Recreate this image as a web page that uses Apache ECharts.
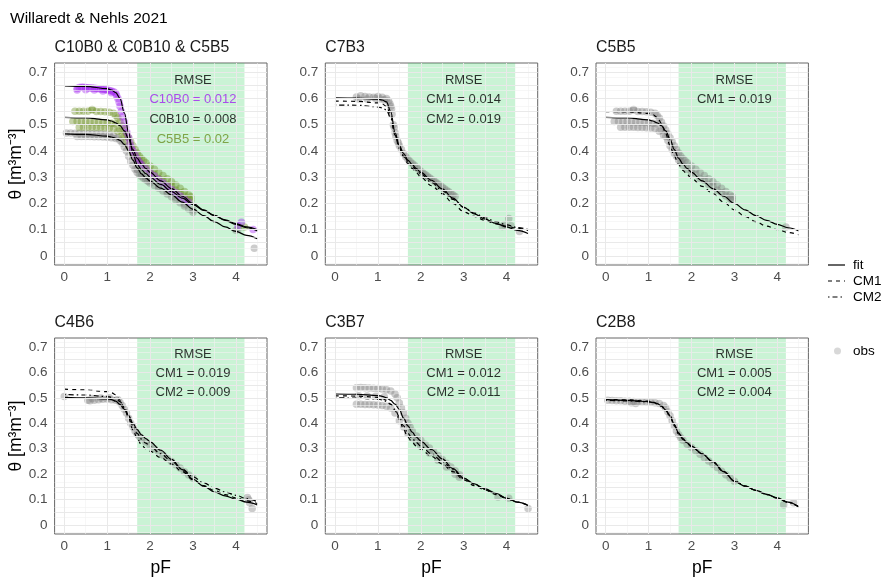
<!DOCTYPE html>
<html><head><meta charset="utf-8">
<script src="https://cdn.jsdelivr.net/npm/echarts@6/dist/echarts.min.js"></script>
<style>html,body{margin:0;padding:0;background:#fff}#c{width:885px;height:578px}</style>
</head><body><div id="c"></div><script>
// ---------- data ----------
const curvePF = [0,0.5,1,1.1,1.2,1.3,1.4,1.5,1.6,1.7,1.8,1.9,2,2.25,2.5,2.75,3,3.25,3.5,3.75,4,4.25,4.5];

// Panel 1: C10B0 & C0B10 & C5B5 (fits)
const fitC10B0 = [0.648,0.646,0.637,0.632,0.622,0.6,0.545,0.47,0.39,0.348,0.328,0.313,0.3,0.272,0.245,0.22,0.195,0.173,0.154,0.137,0.123,0.11,0.099];
const fitC0B10 = [0.465,0.463,0.456,0.453,0.448,0.44,0.425,0.4,0.365,0.335,0.312,0.297,0.285,0.258,0.232,0.205,0.178,0.153,0.13,0.11,0.093,0.078,0.065];
const fitC5B5  = [0.528,0.526,0.518,0.514,0.507,0.496,0.476,0.445,0.405,0.372,0.35,0.333,0.318,0.286,0.256,0.227,0.2,0.175,0.153,0.135,0.12,0.107,0.095];
const cm1C5B5  = [0.55,0.549,0.543,0.538,0.528,0.505,0.465,0.42,0.38,0.348,0.326,0.309,0.295,0.265,0.237,0.205,0.175,0.15,0.13,0.113,0.1,0.089,0.08];
// C7B3
const fitC7B3 = [0.602,0.601,0.597,0.594,0.587,0.55,0.47,0.42,0.39,0.365,0.348,0.332,0.318,0.288,0.255,0.22,0.185,0.16,0.14,0.124,0.11,0.097,0.085];
const cm1C7B3 = [0.59,0.589,0.583,0.579,0.57,0.535,0.46,0.41,0.378,0.352,0.333,0.316,0.3,0.267,0.237,0.2,0.168,0.15,0.135,0.122,0.113,0.105,0.097];
const cm2C7B3 = [0.575,0.574,0.568,0.564,0.556,0.525,0.46,0.413,0.383,0.36,0.342,0.326,0.312,0.28,0.248,0.215,0.185,0.163,0.145,0.13,0.118,0.108,0.1];
// C4B6
const fitC4B6 = [0.502,0.5,0.496,0.493,0.487,0.474,0.455,0.43,0.4,0.375,0.355,0.34,0.327,0.294,0.258,0.218,0.18,0.153,0.13,0.115,0.102,0.09,0.079];
const cm1C4B6 = [0.534,0.531,0.524,0.52,0.512,0.49,0.46,0.42,0.375,0.34,0.315,0.3,0.29,0.265,0.24,0.21,0.178,0.155,0.136,0.12,0.107,0.095,0.085];
const cm2C4B6 = [0.513,0.511,0.505,0.502,0.497,0.485,0.462,0.43,0.39,0.36,0.338,0.322,0.31,0.28,0.25,0.22,0.19,0.166,0.145,0.13,0.117,0.104,0.092];
// C3B7
const fitC3B7 = [0.515,0.514,0.509,0.506,0.5,0.49,0.475,0.455,0.42,0.39,0.365,0.345,0.33,0.297,0.26,0.222,0.185,0.162,0.142,0.125,0.105,0.09,0.077];
const cm1C3B7 = [0.508,0.507,0.502,0.498,0.49,0.475,0.45,0.415,0.375,0.345,0.325,0.31,0.298,0.27,0.24,0.21,0.178,0.155,0.138,0.12,0.104,0.09,0.078];
const cm2C3B7 = [0.5,0.499,0.495,0.492,0.486,0.474,0.455,0.425,0.39,0.36,0.34,0.324,0.31,0.28,0.25,0.218,0.183,0.16,0.14,0.122,0.106,0.091,0.078];
// C2B8
const fitC2B8 = [0.493,0.49,0.485,0.482,0.477,0.468,0.452,0.43,0.395,0.362,0.34,0.323,0.31,0.28,0.248,0.21,0.172,0.153,0.136,0.121,0.107,0.09,0.072];
const cm1C2B8 = [0.495,0.492,0.487,0.484,0.478,0.468,0.45,0.426,0.39,0.358,0.337,0.321,0.308,0.279,0.247,0.21,0.173,0.154,0.137,0.121,0.106,0.09,0.073];
const cm2C2B8 = [0.491,0.488,0.484,0.481,0.476,0.467,0.451,0.428,0.393,0.36,0.339,0.322,0.309,0.28,0.248,0.211,0.173,0.153,0.136,0.12,0.106,0.089,0.071];

// observations [pF, theta]
const obsC0B10 = [[0.05,0.468],[0.15,0.468],[0.25,0.467],[0.35,0.467],[0.45,0.466],[0.55,0.466],[0.65,0.465],[0.75,0.465],[0.85,0.464],[0.95,0.463],[1.05,0.462],[1.15,0.458],
 [0.3,0.455],[0.4,0.455],[0.5,0.455],[0.6,0.455],[0.7,0.454],[0.8,0.454],[0.9,0.453],[1.0,0.452],[1.1,0.45],[1.2,0.447],
 [1.25,0.45],[1.3,0.44],[1.35,0.43],[1.4,0.415],[1.45,0.4],[1.5,0.38],[1.55,0.36],[1.6,0.345],[1.65,0.33],[1.7,0.318],[1.75,0.31],[1.8,0.302],[1.85,0.296],[1.9,0.29],[1.95,0.284],[2.0,0.278],[2.1,0.268],[2.2,0.258],[2.3,0.247],[2.4,0.236],[2.5,0.225],[2.6,0.214],[2.7,0.202],[2.8,0.19],[2.9,0.178],[3.0,0.166],
 [1.7,0.33],[1.8,0.312],[1.9,0.3],[2.0,0.288],[2.2,0.266],[2.4,0.244],[2.6,0.222],[2.8,0.198],[3.0,0.175],
 [4.0,0.097],[4.05,0.102],[4.43,0.029]];
const obsC5B5 = [[0.25,0.551],[0.35,0.551],[0.45,0.551],[0.55,0.551],[0.65,0.558],[0.65,0.557],[0.75,0.55],[0.85,0.55],[0.95,0.549],[1.05,0.547],[1.15,0.543],
 [0.2,0.512],[0.3,0.512],[0.4,0.511],[0.5,0.511],[0.6,0.51],[0.7,0.51],[0.8,0.509],[0.9,0.508],[1.0,0.507],[1.1,0.505],[1.2,0.502],
 [0.35,0.49],[0.45,0.49],[0.55,0.49],[0.65,0.49],[0.75,0.489],[0.85,0.489],[0.95,0.488],[1.05,0.487],[1.15,0.485],
 [1.2,0.535],[1.25,0.525],[1.3,0.51],[1.35,0.495],[1.4,0.48],[1.45,0.465],[1.5,0.45],[1.55,0.435],[1.6,0.42],[1.65,0.405],[1.7,0.392],[1.75,0.38],[1.8,0.37],[1.85,0.362],[1.9,0.355],[2.0,0.342],[2.1,0.33],[2.2,0.318],[2.3,0.306],[2.4,0.294],[2.5,0.282],[2.6,0.27],[2.7,0.258],[2.8,0.245],[2.9,0.232],[2.95,0.225],
 [1.3,0.48],[1.4,0.455],[1.5,0.42],[1.6,0.39],[1.7,0.365],[1.8,0.345],[1.9,0.33],[2.0,0.318],[2.2,0.295],[2.4,0.272],[2.6,0.25],[2.8,0.228],[2.95,0.212],
 [1.25,0.475],[1.35,0.46],[1.45,0.44],[1.55,0.405],[1.65,0.38],[1.75,0.36],[2.1,0.31],[2.3,0.288],[2.5,0.265],[2.7,0.24],[2.9,0.218],
 [4.2,0.11]];
const obsC10B0 = [[0.3,0.638],[0.35,0.642],[0.4,0.643],[0.45,0.643],[0.5,0.642],[0.55,0.641],[0.6,0.64],[0.65,0.64],[0.7,0.639],[0.75,0.638],[0.8,0.637],[0.85,0.636],[0.9,0.635],[0.95,0.634],[1.0,0.632],[1.05,0.63],[1.1,0.628],[1.15,0.625],[1.2,0.62],
 [0.3,0.632],[0.5,0.633],[0.7,0.632],[0.9,0.628],[1.1,0.622],
 [1.22,0.61],[1.25,0.6],[1.28,0.585],[1.3,0.57],[1.33,0.55],[1.36,0.53],[1.4,0.51],[1.43,0.49],[1.46,0.47],[1.5,0.45],[1.53,0.43],[1.56,0.415],[1.6,0.4],[1.65,0.385],[1.7,0.37],[1.75,0.358],[1.8,0.348],[1.9,0.332],[2.0,0.318],[2.1,0.305],[2.2,0.292],[2.3,0.279],[2.4,0.266],[2.5,0.253],[2.6,0.24],[2.7,0.228],[2.8,0.216],[2.9,0.205],
 [4.05,0.115],[4.13,0.128],[4.4,0.1]];
const obsC7B3 = [[0.5,0.605],[0.6,0.61],[0.7,0.607],[0.8,0.605],[0.9,0.604],[1.0,0.607],[1.1,0.604],[1.2,0.6],[0.55,0.598],[0.75,0.598],[0.95,0.6],[1.05,0.598],[1.15,0.595],[1.25,0.59],
 [1.3,0.57],[1.33,0.54],[1.36,0.5],[1.4,0.47],[1.45,0.44],[1.5,0.42],[1.55,0.405],[1.6,0.39],[1.7,0.368],[1.8,0.352],[1.9,0.337],[2.0,0.322],[2.1,0.31],[2.2,0.298],[2.3,0.286],[2.4,0.274],[2.5,0.262],[2.6,0.25],[2.7,0.238],[2.8,0.226],
 [1.28,0.58],[1.32,0.56],[1.38,0.49],[1.42,0.455],[1.48,0.43],[1.65,0.378],[1.75,0.36],[1.85,0.345],[1.95,0.33],[2.05,0.316],[2.15,0.304],[2.25,0.292],[2.35,0.28],[2.45,0.268],[2.55,0.256],[2.65,0.244],[2.75,0.232],
 [3.9,0.112],[3.95,0.118],[4.05,0.142],[4.1,0.115],[4.3,0.093]];
const obsC4B6 = [[0.0,0.505],[0.55,0.49],[0.6,0.488],[0.7,0.49],[0.8,0.492],[0.9,0.494],[1.0,0.495],[1.1,0.492],[1.2,0.49],[1.3,0.482],[0.65,0.497],[0.85,0.499],[1.05,0.5],[1.25,0.492],
 [1.35,0.47],[1.4,0.455],[1.45,0.44],[1.5,0.42],[1.55,0.4],[1.6,0.385],[1.65,0.37],[1.7,0.358],[1.75,0.348],[1.8,0.34],[1.9,0.326],[2.0,0.313],[2.1,0.3],[2.2,0.288],[2.3,0.275],[2.4,0.262],[2.5,0.25],[2.6,0.237],[2.7,0.224],[2.8,0.21],[2.9,0.197],[3.0,0.185],
 [4.27,0.108],[4.3,0.1],[4.32,0.088],[4.38,0.065]];
const obsC3B7 = [[0.5,0.54],[0.6,0.541],[0.7,0.54],[0.8,0.539],[0.9,0.538],[1.0,0.537],[1.1,0.535],[1.2,0.532],[1.3,0.527],[1.4,0.515],
 [0.5,0.475],[0.6,0.475],[0.7,0.474],[0.8,0.474],[0.9,0.473],[1.0,0.472],[1.1,0.47],[1.2,0.467],[1.3,0.46],
 [0.55,0.508],[0.75,0.507],[0.95,0.506],[1.15,0.504],
 [1.45,0.5],[1.5,0.48],[1.55,0.46],[1.6,0.44],[1.65,0.42],[1.7,0.4],[1.75,0.385],[1.8,0.37],[1.9,0.35],[2.0,0.333],[2.1,0.318],[2.2,0.303],[2.3,0.288],[2.4,0.273],[2.5,0.258],[2.6,0.243],[2.7,0.228],[2.8,0.213],[2.9,0.198],
 [1.4,0.44],[1.5,0.41],[1.6,0.385],[1.7,0.36],[1.8,0.342],[1.9,0.326],[2.0,0.31],[2.2,0.283],[2.4,0.255],[2.6,0.228],[2.8,0.2],[2.9,0.188],
 [3.8,0.11],[4.05,0.105],[4.5,0.065]];
const obsC2B8 = [[0.05,0.49],[0.15,0.489],[0.25,0.488],[0.35,0.488],[0.45,0.487],[0.55,0.487],[0.65,0.486],[0.75,0.485],[0.85,0.485],[0.95,0.484],[1.05,0.483],[1.15,0.481],[1.25,0.478],[1.35,0.47],[0.7,0.478],[0.6,0.481],
 [1.4,0.46],[1.45,0.445],[1.5,0.43],[1.55,0.41],[1.6,0.39],[1.65,0.37],[1.7,0.355],[1.75,0.343],[1.8,0.333],[1.9,0.318],[2.0,0.305],[2.1,0.292],[2.2,0.278],[2.3,0.265],[2.4,0.252],[2.5,0.239],[2.6,0.226],[2.7,0.212],[2.8,0.198],[2.9,0.185],[3.0,0.172],
 [4.15,0.08],[4.38,0.088]];

const panelTitles = ['C10B0 & C0B10 & C5B5','C7B3','C5B5','C4B6','C3B7','C2B8'];
const rmseLines = [
  ['RMSE','C10B0 = 0.012','C0B10 = 0.008','C5B5 = 0.02'],
  ['RMSE','CM1 = 0.014','CM2 = 0.019'],
  ['RMSE','CM1 = 0.019'],
  ['RMSE','CM1 = 0.019','CM2 = 0.009'],
  ['RMSE','CM1 = 0.012','CM2 = 0.011'],
  ['RMSE','CM1 = 0.005','CM2 = 0.004']
];
const rmseColors = [['#000','#a020f0','#000','#6b8e23'],['#000','#000','#000'],['#000','#000'],['#000','#000','#000'],['#000','#000','#000'],['#000','#000','#000']];
const rmsePF = 3.0;
const rmseTheta = [0.67,0.595,0.52,0.445];

const xTicks = [0,1,2,3,4];
const xMinor = [0.5,1.5,2.5,3.5,4.5];
const yLabels = [0,0.1,0.2,0.3,0.4,0.5,0.6,0.7];
const yTicks = [0,0.05,0.1,0.15,0.2,0.25,0.3,0.35,0.4,0.45,0.5,0.55,0.6,0.65,0.7];
const yMinor = [-0.025,0.025,0.075,0.125,0.175,0.225,0.275,0.325,0.375,0.425,0.475,0.525,0.575,0.625,0.675,0.725];
const bandPF = [1.7, 4.2];

// ---------- build ----------
const FONT = 'Liberation Sans, Arial, Helvetica, sans-serif';
const colLeft = [54.6, 325.3, 596];
const rowTop = [63, 338];
const PW = 212.4, PH = 202;

const lineStyles = { fit: 'solid', CM1: [4, 4], CM2: [1.5, 3, 5, 3] };
const panelCurves = [
  [['fit', fitC10B0], ['fit', fitC0B10], ['fit', fitC5B5]],
  [['fit', fitC7B3], ['CM1', cm1C7B3], ['CM2', cm2C7B3]],
  [['fit', fitC5B5], ['CM1', cm1C5B5]],
  [['fit', fitC4B6], ['CM1', cm1C4B6], ['CM2', cm2C4B6]],
  [['fit', fitC3B7], ['CM1', cm1C3B7], ['CM2', cm2C3B7]],
  [['fit', fitC2B8], ['CM1', cm1C2B8], ['CM2', cm2C2B8]]
];
const panelObs = [
  [[obsC0B10, '#7f7f7f'], [obsC5B5, '#6b8e23'], [obsC10B0, '#a020f0']],
  [[obsC7B3, '#7f7f7f']],
  [[obsC5B5, '#7f7f7f']],
  [[obsC4B6, '#7f7f7f']],
  [[obsC3B7, '#7f7f7f']],
  [[obsC2B8, '#7f7f7f']]
];

const grid = [], xAxis = [], yAxis = [], series = [], title = [];
title.push({ text: 'Willaredt & Nehls 2021', left: 10, top: 11, padding: 0,
  textStyle: { fontSize: 15.5, fontWeight: 'normal', color: '#000', fontFamily: FONT } });

for (let i = 0; i < 6; i++) {
  const r = Math.floor(i / 3), c = i % 3;
  grid.push({ left: colLeft[c], top: rowTop[r], width: PW, height: PH, show: true,
    borderColor: '#666', borderWidth: 1, backgroundColor: 'transparent', containLabel: false });
  title.push({ text: panelTitles[i], left: colLeft[c], top: rowTop[r] - 23, padding: 0,
    textStyle: { fontSize: 15.8, fontWeight: 'normal', color: '#1a1a1a', fontFamily: FONT } });
  xAxis.push({ gridIndex: i, type: 'value', min: -0.225, max: 4.725,
    axisLine: { show: false }, splitLine: { show: false },
    axisTick: { show: true, customValues: xTicks, length: 4, lineStyle: { color: '#333', width: 1 } },
    axisLabel: { customValues: xTicks, color: '#4d4d4d', fontSize: 13.5, margin: 5, fontFamily: FONT },
    name: r === 1 ? 'pF' : '', nameLocation: 'middle', nameGap: 25,
    nameTextStyle: { fontSize: 17.5, color: '#000', fontFamily: FONT } });
  yAxis.push({ gridIndex: i, type: 'value', min: -0.035, max: 0.735,
    axisLine: { show: false }, splitLine: { show: false },
    axisTick: { show: true, customValues: yTicks, length: 4, lineStyle: { color: '#333', width: 1 } },
    axisLabel: { customValues: yLabels, color: '#4d4d4d', fontSize: 13.5, margin: 7, fontFamily: FONT,
      formatter: v => String(+(+v).toFixed(2)) },
    name: c === 0 ? 'θ [m³m⁻³]' : '', nameLocation: 'middle', nameGap: 24,
    nameTextStyle: { fontSize: 17.5, color: '#000', fontFamily: FONT } });

  // grid lines (minor, then major)
  series.push({ type: 'line', xAxisIndex: i, yAxisIndex: i, data: [], z: 0, silent: true,
    markLine: { silent: true, symbol: ['none', 'none'], label: { show: false }, animation: false,
      lineStyle: { color: '#f1f1f1', width: 0.6, type: 'solid' },
      data: yMinor.map(v => ({ yAxis: v })).concat(xMinor.map(v => ({ xAxis: v }))) } });
  series.push({ type: 'line', xAxisIndex: i, yAxisIndex: i, data: [], z: 0, silent: true,
    markLine: { silent: true, symbol: ['none', 'none'], label: { show: false }, animation: false,
      lineStyle: { color: '#e9e9e9', width: 1, type: 'solid' },
      data: yTicks.map(v => ({ yAxis: v })).concat(xTicks.map(v => ({ xAxis: v }))) } });
  // green band
  series.push({ type: 'line', xAxisIndex: i, yAxisIndex: i, data: [], z: 1, silent: true,
    markArea: { silent: true, itemStyle: { color: 'rgba(60,210,100,0.27)' },
      data: [[{ xAxis: bandPF[0] }, { xAxis: bandPF[1] }]] } });
  // observations
  panelObs[i].forEach(([d, col]) => {
    series.push({ type: 'scatter', xAxisIndex: i, yAxisIndex: i, data: d, z: 2, silent: true,
      symbolSize: 7.5, itemStyle: { color: col, opacity: 0.4 } });
  });
  // curves
  panelCurves[i].forEach(([kind, arr]) => {
    series.push({ type: 'line', xAxisIndex: i, yAxisIndex: i, z: 3, silent: true,
      data: curvePF.map((x, k) => [x, arr[k]]), showSymbol: false, smooth: 0.35, smoothMonotone: 'x',
      lineStyle: { color: '#000', width: 1.2, type: lineStyles[kind] } });
  });
  // RMSE text
  series.push({ type: 'scatter', xAxisIndex: i, yAxisIndex: i, z: 5, zlevel: 1, silent: true, symbolSize: 1,
    itemStyle: { color: 'rgba(0,0,0,0)' },
    data: rmseLines[i].map((t, k) => ({ value: [rmsePF, rmseTheta[k]],
      label: { show: true, position: 'inside', formatter: t, color: rmseColors[i][k],
        textBorderWidth: 0, textBorderColor: 'transparent', textShadowBlur: 0,
        fontSize: 13, fontFamily: FONT } })) });
}

const LX = 828, LT = 853;
const legY = { fit: 265, CM1: 281, CM2: 297, obs: 351 };
const graphic = [];
['fit', 'CM1', 'CM2'].forEach(k => {
  graphic.push({ type: 'line', shape: { x1: LX, y1: legY[k], x2: LX + 17, y2: legY[k] },
    style: { stroke: '#000', lineWidth: 1.2, lineDash: lineStyles[k] === 'solid' ? null : lineStyles[k] } });
  graphic.push({ type: 'text', x: LT, y: legY[k], style: { text: k, fontSize: 13.5, fill: '#000',
    fontFamily: FONT, verticalAlign: 'middle', textVerticalAlign: 'middle' } });
});
graphic.push({ type: 'circle', shape: { cx: LX + 9.5, cy: legY.obs, r: 3.5 }, style: { fill: 'rgba(127,127,127,0.3)' } });
graphic.push({ type: 'text', x: LT, y: legY.obs, style: { text: 'obs', fontSize: 13.5, fill: '#000',
  fontFamily: FONT, verticalAlign: 'middle', textVerticalAlign: 'middle' } });

const chart = echarts.init(document.getElementById('c'), null, { renderer: 'canvas' });
chart.setOption({ animation: false, backgroundColor: '#fff', textStyle: { fontFamily: FONT },
  title, grid, xAxis, yAxis, series, graphic });
</script></body></html>
